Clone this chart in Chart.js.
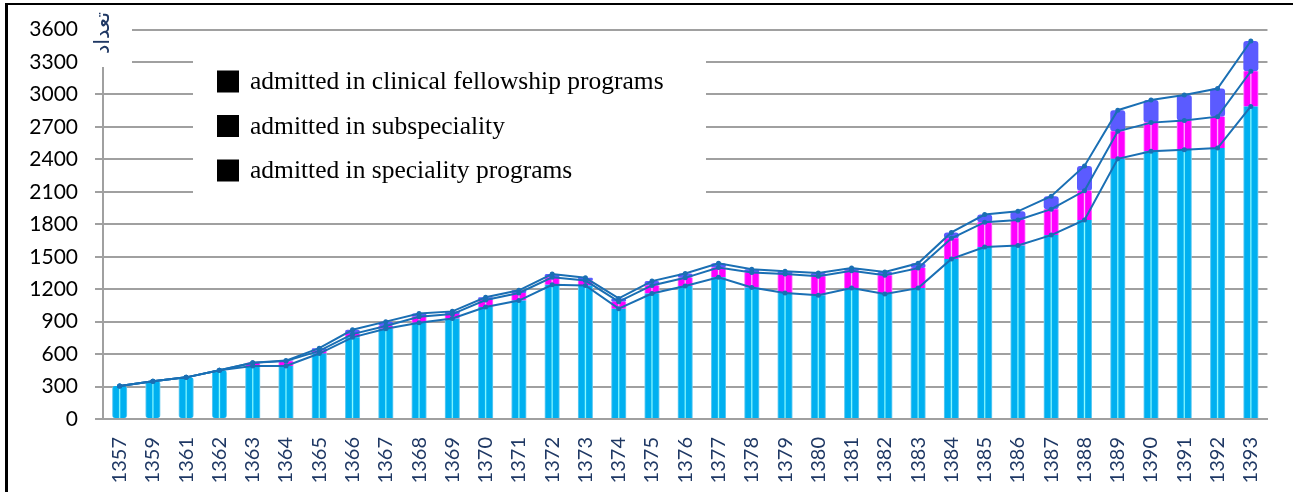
<!DOCTYPE html>
<html>
<head>
<meta charset="utf-8">
<script src="https://cdn.jsdelivr.net/npm/chart.js"></script>
<style>
  html, body { margin: 0; padding: 0; background: #fff; }
  #wrap { position: relative; width: 1293px; height: 492px; overflow: hidden; }
  #frame { position: absolute; left: 5px; top: 3px; width: 1400px; height: 600px;
           border-top: 2px solid #000; border-left: 3px solid #000; pointer-events: none; }
</style>
</head>
<body>
<div id="wrap">
  <canvas id="Chart"></canvas>
  <div id="frame"></div>
</div>
<script>
// Years (solar hijri) and admissions per programme type
const years = ['1357', '1359', '1361', '1362', '1363', '1364', '1365', '1366', '1367', '1368',
  '1369', '1370', '1371', '1372', '1373', '1374', '1375', '1376', '1377', '1378',
  '1379', '1380', '1381', '1382', '1383', '1384', '1385', '1386', '1387', '1388',
  '1389', '1390', '1391', '1392', '1393'];
const speciality = [305, 350, 385, 450, 490, 490, 605, 755, 835, 890,
  930, 1035, 1095, 1240, 1235, 1020, 1160, 1230, 1310, 1215,
  1165, 1145, 1210, 1155, 1210, 1480, 1590, 1605, 1700, 1840,
  2405, 2475, 2490, 2505, 2890];
const subspeciality = [0, 0, 0, 0, 30, 45, 25, 30, 25, 55,
  40, 65, 70, 70, 45, 65, 75, 75, 90, 140,
  175, 175, 160, 175, 185, 190, 230, 235, 240, 270,
  255, 265, 270, 290, 325];
const fellowship = [0, 0, 0, 0, 0, 5, 25, 40, 40, 30,
  25, 25, 25, 30, 25, 30, 40, 40, 40, 30,
  25, 30, 25, 30, 45, 55, 70, 80, 120, 230,
  195, 210, 235, 260, 280];

const seriesNames = ['admitted in speciality programs', 'admitted in subspeciality',
  'admitted in clinical fellowship programs'];
const yRange = { min: 0, max: 3600, step: 300 };
const yTitle = 'تعداد';

// running totals for the three connecting lines
const level1 = speciality;
const level2 = speciality.map((v, i) => v + subspeciality[i]);
const level3 = level2.map((v, i) => v + fellowship[i]);

const BAR_PCT = 0.45;

// vertical stripe gradient across each bar
function stripe(base, light, edge) {
  return (c) => {
    const chart = c.chart;
    const xs = chart.scales.x;
    if (!chart.chartArea || !xs || c.dataIndex === undefined) return base;
    const x = xs.getPixelForValue(c.dataIndex);
    const w = xs.width / years.length * BAR_PCT;
    const g = chart.ctx.createLinearGradient(x - w / 2, 0, x + w / 2, 0);
    g.addColorStop(0, edge);
    g.addColorStop(0.1, base);
    g.addColorStop(0.42, base);
    g.addColorStop(0.5, light);
    g.addColorStop(0.58, base);
    g.addColorStop(0.9, base);
    g.addColorStop(1, edge);
    return g;
  };
}

function barSet(label, values, fill) {
  return {
    type: 'bar',
    label: label,
    data: values,
    backgroundColor: fill,
    borderWidth: 0,
    borderRadius: 3,
    borderSkipped: false,
    stack: 'bars',
    order: 1,
    barPercentage: BAR_PCT,
    categoryPercentage: 1.0
  };
}

function lineSet(values, key) {
  return {
    type: 'line',
    label: key,
    data: values,
    borderColor: '#1a6fb4',
    backgroundColor: '#1a6fb4',
    borderWidth: 2,
    pointRadius: 1.5,
    pointHoverRadius: 1.5,
    tension: 0,
    stack: key,
    order: 0
  };
}

// white inset panel with the y title and the key
const insetPanels = {
  id: 'insetPanels',
  beforeDatasetsDraw(chart) {
    const ctx = chart.ctx;
    ctx.save();
    ctx.fillStyle = '#fff';
    ctx.fillRect(88, 6, 44, 61);
    ctx.fillRect(193, 44, 513, 161);

    ctx.translate(104, 33);
    ctx.rotate(-Math.PI / 2);
    ctx.fillStyle = '#1f3864';
    ctx.font = '21px "DejaVu Sans"';
    ctx.textAlign = 'center';
    ctx.textBaseline = 'middle';
    ctx.fillText(yTitle, 0, 0);
    ctx.restore();

    ctx.save();
    ctx.font = '25.5px "Liberation Serif"';
    ctx.textBaseline = 'middle';
    ctx.textAlign = 'left';
    const order = [2, 1, 0];
    order.forEach((di, k) => {
      const cy = 81.5 + 44.5 * k;
      ctx.fillStyle = '#000';
      ctx.fillRect(217, cy - 11, 22, 22);
      ctx.fillText(chart.data.datasets[di].label, 250, cy + 1);
    });
    ctx.restore();
  }
};

const data = {
  labels: years,
  datasets: [
    barSet(seriesNames[0], speciality, stripe('#00b0f0', '#8ffcff', '#7fd3f3')),
    barSet(seriesNames[1], subspeciality, stripe('#ff00ff', '#ffc0ff', '#ff7fff')),
    barSet(seriesNames[2], fellowship, '#5b5bff'),
    lineSet(level1, 'l1'),
    lineSet(level2, 'l2'),
    lineSet(level3, 'l3')
  ]
};

const config = {
  type: 'bar',
  data: data,
  options: {
    responsive: true,
    maintainAspectRatio: false,
    animation: false,
    layout: { padding: { top: 25, right: 11, left: 0, bottom: 0 } },
    plugins: {
      legend: { display: false },
      tooltip: { enabled: false }
    },
    scales: {
      x: {
        stacked: true,
        grid: { display: false, drawTicks: false },
        border: { display: true, color: '#a0a0a0', width: 2 },
        ticks: {
          autoSkip: false,
          minRotation: 90,
          maxRotation: 90,
          padding: 18,
          color: '#1f3864',
          font: { family: 'Lato', size: 20 }
        },
        afterFit: (s) => { s.height = 73; }
      },
      y: {
        stacked: true,
        min: yRange.min,
        max: yRange.max,
        grid: { color: '#a0a0a0', lineWidth: 2, tickLength: 8, drawTicks: true },
        border: { color: '#a0a0a0', width: 2 },
        ticks: {
          stepSize: yRange.step,
          padding: 17,
          color: '#000',
          font: { family: 'Lato', size: 21 },
          callback: (v) => String(v)
        },
        afterFit: (s) => { s.width = 103; }
      }
    }
  },
  plugins: [insetPanels]
};

window.addEventListener('load', () => {
  const ctx = document.getElementById('Chart');
  new Chart(ctx, config);
});
</script>
</body>
</html>
